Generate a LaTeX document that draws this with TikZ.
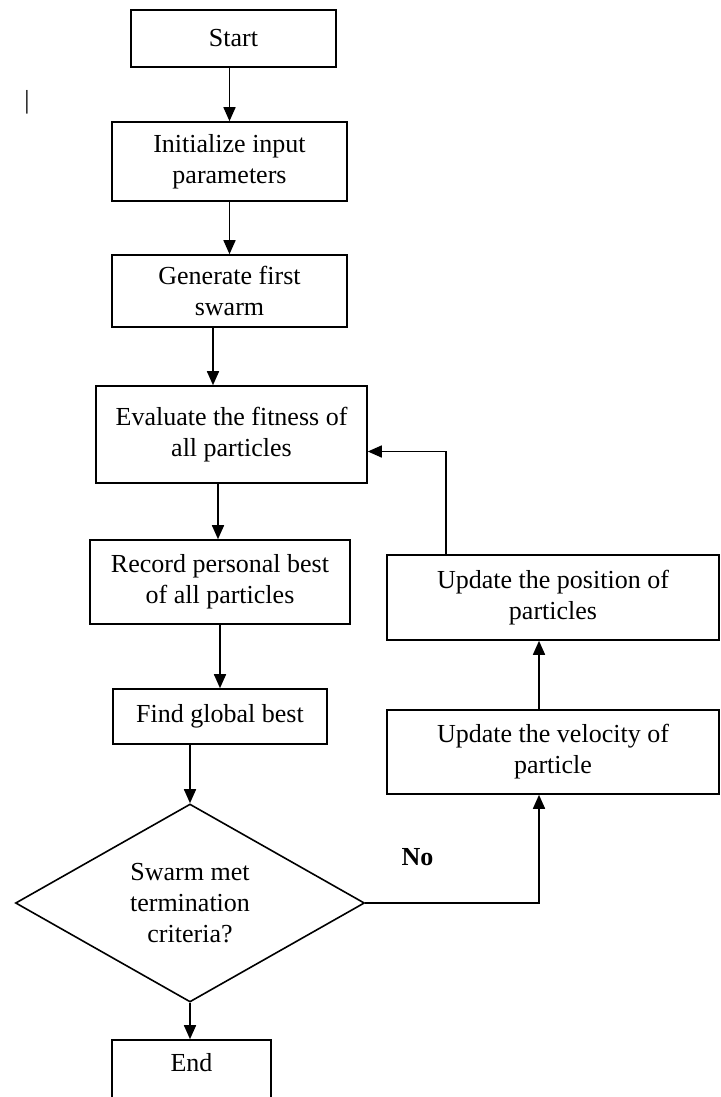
\documentclass[tikz,border=0pt]{standalone}
\usepackage{fontspec}
\setmainfont{Liberation Serif}
\usetikzlibrary{arrows.meta,shapes.geometric,positioning}
\tikzset{->,>={Triangle[length=7pt,width=6pt]},node distance=64pt,
  box/.style={draw,rectangle,align=center,inner sep=0pt},
  choice/.style={draw,diamond,aspect=1.76,align=center,inner sep=0pt},
  hv/.style={to path={-| (\tikztotarget) \tikztonodes}},
  vh/.style={to path={|- (\tikztotarget) \tikztonodes}}}

\begin{document}
\begin{tikzpicture}[x=0.5pt,y=-0.5pt,line width=0.8pt,font=\fontsize{13}{15.5}\selectfont]
              \useasboundingbox (0,0) rectangle (720,1097);

              \node[box,minimum width=102.5pt,minimum height=28.5pt] (start) at (233.5,38.5) {Start};
              \node[box,minimum width=117.5pt,minimum height=39.5pt] (init) [below of=start,node distance=61.5pt,xshift=-2pt] {Initialize input\\parameters};
              \node[box,minimum width=117.5pt,minimum height=36pt] (gen) [below of=init,node distance=64.75pt] {Generate first\\swarm};
              \node[box,minimum width=135.5pt,minimum height=48.5pt] (eval) [below of=gen,node distance=71.75pt,xshift=1pt] {Evaluate the fitness of\\all particles};
              \node[box,minimum width=130pt,minimum height=42pt] (rec) [below of=eval,node distance=73.75pt,xshift=-5.75pt] {Record personal best\\of all particles};
              \node[box,minimum width=107pt,minimum height=27.5pt] (find) [below of=rec,node distance=67.25pt] {Find global best};

              \node[choice,minimum width=174.5pt,minimum height=99pt] (dec) [below of=find,node distance=93.25pt,xshift=-15pt] {Swarm met\\termination\\criteria?};
              \node[box,minimum width=79.5pt,text height=15.75pt,text depth=39pt] (end) [below of=dec,node distance=95.875pt,xshift=0.75pt] {End};

              \node[box,minimum width=166pt,minimum height=42pt] (vel) [right of=find,node distance=166.5pt,yshift=-17.75pt] {Update the velocity of\\particle};
              \node[box,minimum width=166pt,minimum height=42.5pt] (pos) [above of=vel,node distance=77.25pt] {Update the position of\\particles};

              \node (caret) at (27,102) {|};

              \path
              (start.south -| init.north) edge (init)
              (init) edge (gen)
              ([xshift=-8.25pt]gen.south) edge ([xshift=-9.25pt]eval.north)
              ([xshift=-6.75pt]eval.south) edge ([xshift=-1pt]rec.north)
              (rec) edge (find)
              (find.south -| dec.north) edge (dec.north)
              (dec.south) edge (dec.south |- end.north)

              (dec.east) edge [hv] node [pos=0.15,yshift=23pt] {\textbf{No}} ([xshift=-7pt]vel.south)
              ([xshift=-7pt]vel.north) edge ([xshift=-7pt]pos.south)
              ([xshift=-53.5pt]pos.north) edge [vh] ([yshift=-8.5pt]eval.east)
              ;
            \end{tikzpicture}
\end{document}
